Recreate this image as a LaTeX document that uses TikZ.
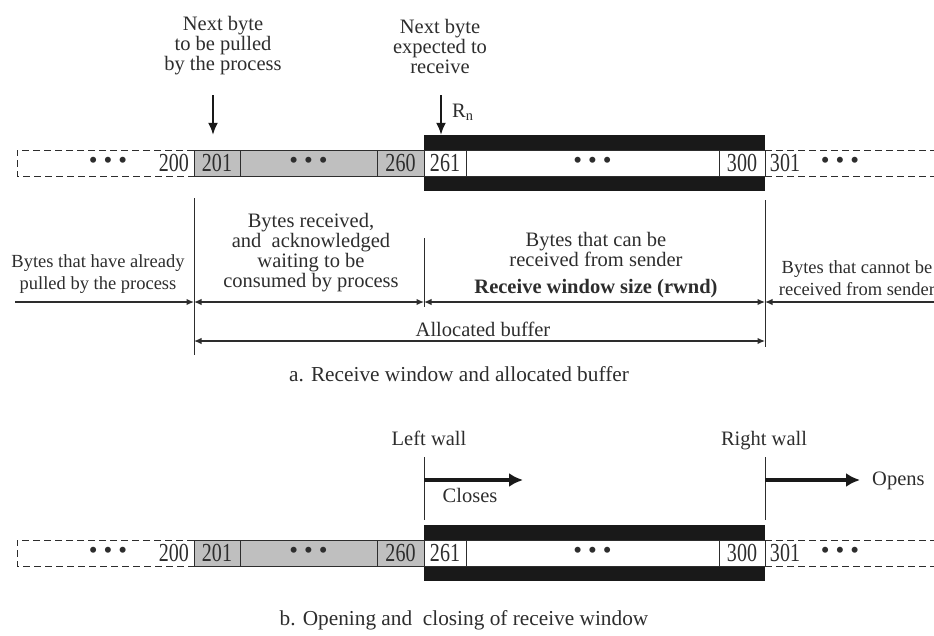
\documentclass[tikz,border=0pt]{standalone}
\usepackage{fontspec}
\setmainfont{Liberation Serif}
\usetikzlibrary{arrows.meta}
\definecolor{cellgray}{RGB}{191,191,191}
\definecolor{inkgray}{RGB}{45,45,45}
\definecolor{bandblack}{RGB}{25,25,25}
\newcommand{\cellnum}[1]{\scalebox{0.77}[1]{#1}}
\newcommand{\threedots}{{\fontsize{25}{25}\selectfont\textbullet\hspace{6pt}\textbullet\hspace{6pt}\textbullet}}

\begin{document}
\begin{tikzpicture}[x=1pt,y=-1pt,
    cell/.style={draw=inkgray,line width=0.9pt,minimum height=26pt,inner sep=0pt,text=inkgray,font=\fontsize{26}{26}\selectfont},
    graycell/.style={cell,fill=cellgray},
    whitecell/.style={cell,fill=white},
    band/.style={fill=bandblack,minimum width=341pt,minimum height=56pt,inner sep=0pt},
    bare/.style={inner sep=0pt,text=inkgray,font=\fontsize{26}{26}\selectfont},
    dashbox/.style={draw=inkgray,line width=0.8pt,dash pattern=on 7pt off 4pt},
    txt/.style={align=center,inner sep=0pt,text=inkgray,font=\fontsize{20.5}{20}\selectfont},
    sidetxt/.style={align=center,inner sep=0pt,text=inkgray,font=\fontsize{18.5}{22}\selectfont},
    captxt/.style={inner sep=0pt,text=inkgray,font=\fontsize{21.3}{22}\selectfont},
    ptr/.style={-{Latex[length=12pt,width=10pt]},line width=1.9pt,draw=bandblack},
    dim/.style={line width=1.3pt,draw=inkgray,>={Latex[length=7.5pt,width=6.5pt]}},
    wall/.style={line width=0.9pt,draw=inkgray},
    move/.style={-{Latex[length=14pt,width=14pt]},line width=4.5pt,draw=bandblack}]
    \path[use as bounding box] (0,0) rectangle (934,635);

    % the two byte strips
    \foreach \r/\y in {a/163,b/553}{
      \node[band] (\r-win) at (594.5,\y) {};
      \node[graycell,minimum width=46pt] (\r-201) at (217,\y) {\cellnum{201}};
      \node[graycell,minimum width=137pt] (\r-mid) at (308.5,\y) {\threedots};
      \node[graycell,minimum width=47pt] (\r-260) at (400.5,\y) {\cellnum{260}};
      \node[whitecell,minimum width=42pt] (\r-261) at (445,\y) {\cellnum{261}};
      \node[whitecell,minimum width=253pt] (\r-open) at (592.5,\y) {\threedots};
      \node[whitecell,minimum width=46pt] (\r-300) at (742,\y) {\cellnum{300}};
      \draw[dashbox] (194,\y-13) -| (17,\y+13) -- (194,\y+13);
      \draw[dashbox] (765,\y-13) -- (934,\y-13) (765,\y+13) -- (934,\y+13);
      \node[bare] (\r-pre) at (108,\y) {\threedots};
      \node[bare,anchor=east] (\r-200) at (189,\y) {\cellnum{200}};
      \node[bare] (\r-301) at (785,\y) {\cellnum{301}};
      \node[bare] (\r-post) at (840,\y) {\threedots};
    }

    % pointers above strip a
    \node[txt] (pull) at (223,46) {Next byte\\to be pulled\\by the process};
    \node[txt] (expect) at (440,46) {Next byte\\expected to\\receive};
    \coordinate (pullarr) at (213,95);
    \coordinate (rnarr) at (441,95);
    \draw[ptr] (pullarr) -- (pullarr |- a-win.north);
    \draw[ptr] (rnarr) -- (rnarr |- a-win.north);
    \node[txt,anchor=base west] (rn) at (452,117) {R\textsubscript{n}};

    % a. regions of the buffer
    \draw[wall] (194,198) -- (194,355);
    \draw[wall] (424,238) -- (424,307);
    \draw[wall] (765,200) -- (765,347);
    \coordinate (d0) at (15,302);
    \coordinate (d1) at (194,302);
    \coordinate (d2) at (424,302);
    \coordinate (d3) at (765,302);
    \coordinate (d4) at (934,302);
    \coordinate (buf0) at (194,341);
    \coordinate (buf1) at (765,341);
    \draw[dim,->] (d0) -- (d1);
    \draw[dim,<->] (d1) -- (d2);
    \draw[dim,<->] (d2) -- (d3);
    \draw[dim,<-] (d3) -- (d4);
    \draw[dim,<->] (buf0) -- (buf1);

    \node[sidetxt] (pulled) at (98,274) {Bytes that have already\\pulled by the process};
    \node[txt] (waiting) at (311,253) {Bytes received,\\and\ \ acknowledged\\waiting to be\\consumed by process};
    \node[txt] (canrecv) at (596,249) {Bytes that can be\\received from sender};
    \node[txt,font=\fontsize{20.5}{20}\selectfont\bfseries] (rwnd) at (596,289) {Receive window size (rwnd)};
    \node[sidetxt] (cannot) at (857,278) {Bytes that cannot be\\received from sender};
    \node[txt,anchor=base] (alloc) at (483,336) {Allocated buffer};
    \node[captxt,anchor=base] (capa) at (459,381) {a. Receive window and allocated buffer};

    % b. moving walls
    \node[txt,anchor=base] (lwall) at (429,445) {Left wall};
    \node[txt,anchor=base] (rwall) at (764,445) {Right wall};
    \draw[wall] (424,457) -- (424,520);
    \draw[wall] (765,457) -- (765,520);
    \coordinate (cl0) at (424,480);
    \coordinate (cl1) at (523,480);
    \coordinate (op0) at (765,480);
    \coordinate (op1) at (860,480);
    \draw[move] (cl0) -- (cl1);
    \draw[move] (op0) -- (op1);
    \node[txt,anchor=base] (closes) at (470,502) {Closes};
    \node[txt,anchor=base west] (opens) at (872,485) {Opens};
    \node[captxt,anchor=base] (capb) at (464,625) {b. Opening and\ \ closing of receive window};
\end{tikzpicture}
\end{document}
